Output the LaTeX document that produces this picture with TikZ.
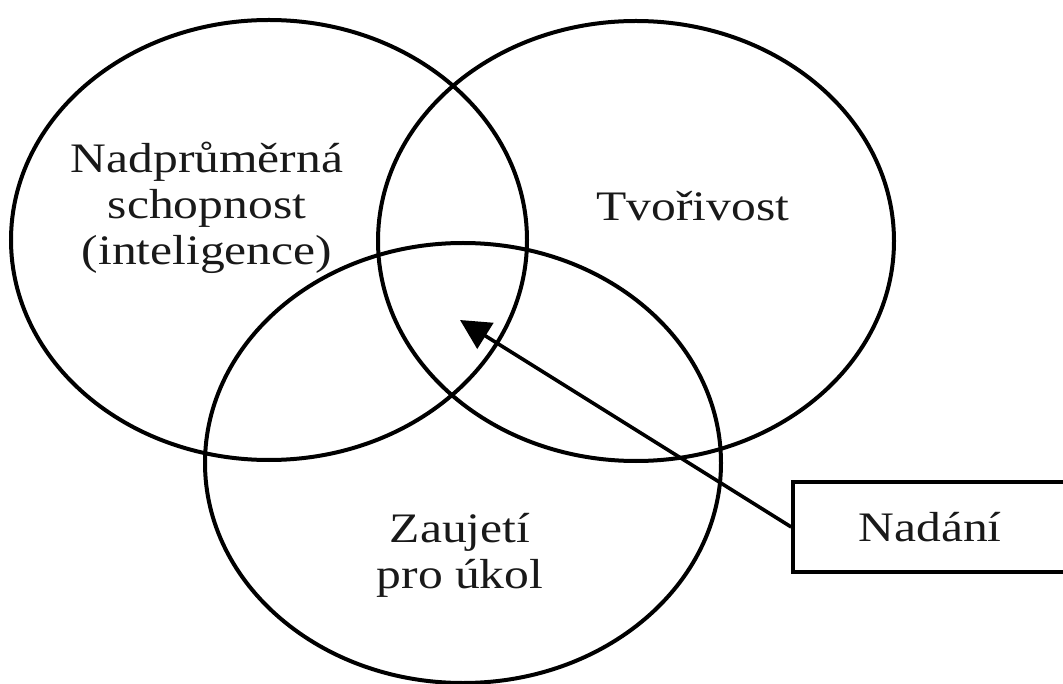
\documentclass[tikz,border=0pt]{standalone}
\usepackage{fontspec}
\setmainfont{Liberation Serif}[FakeStretch=1.18]
\usetikzlibrary{shapes.geometric,arrows.meta}
\begin{document}
\begin{tikzpicture}[x=1pt,y=-1pt,
  setshape/.style={ellipse,draw,line width=4pt,inner sep=0pt,minimum width=516pt,minimum height=440pt},
  lbl/.style={font=\fontsize{42}{46}\selectfont,align=center,inner sep=0pt,text=black!90},
  boxnode/.style={draw,line width=3.6pt,minimum width=274pt,minimum height=90pt,inner sep=0pt,font=\fontsize{42}{46}\selectfont,text=black!90},
  link/.style={line width=3.6pt,-{Triangle[length=30pt,width=30pt]}}]
\useasboundingbox (0,0) rectangle (1063,684);
\clip (0,0) rectangle (1063,684);
\node[setshape] (intel) at (269,240) {};
\node[setshape] (creat) at (636,241) {};
\node[setshape] (task) at (463,463) {};
\node[lbl] (tintel) at (207,208) {Nadprůměrná\\schopnost\\(inteligence)};
\node[lbl,anchor=base] (tcreat) at (693,221) {Tvořivost};
\node[lbl] (ttask) at (460,555) {Zaujetí\\pro úkol};
\node[boxnode] (gift) at (930,527) {Nadání};
\coordinate (tip) at (460,320);
\draw[link] (gift.west) -- (tip);
\end{tikzpicture}
\end{document}
